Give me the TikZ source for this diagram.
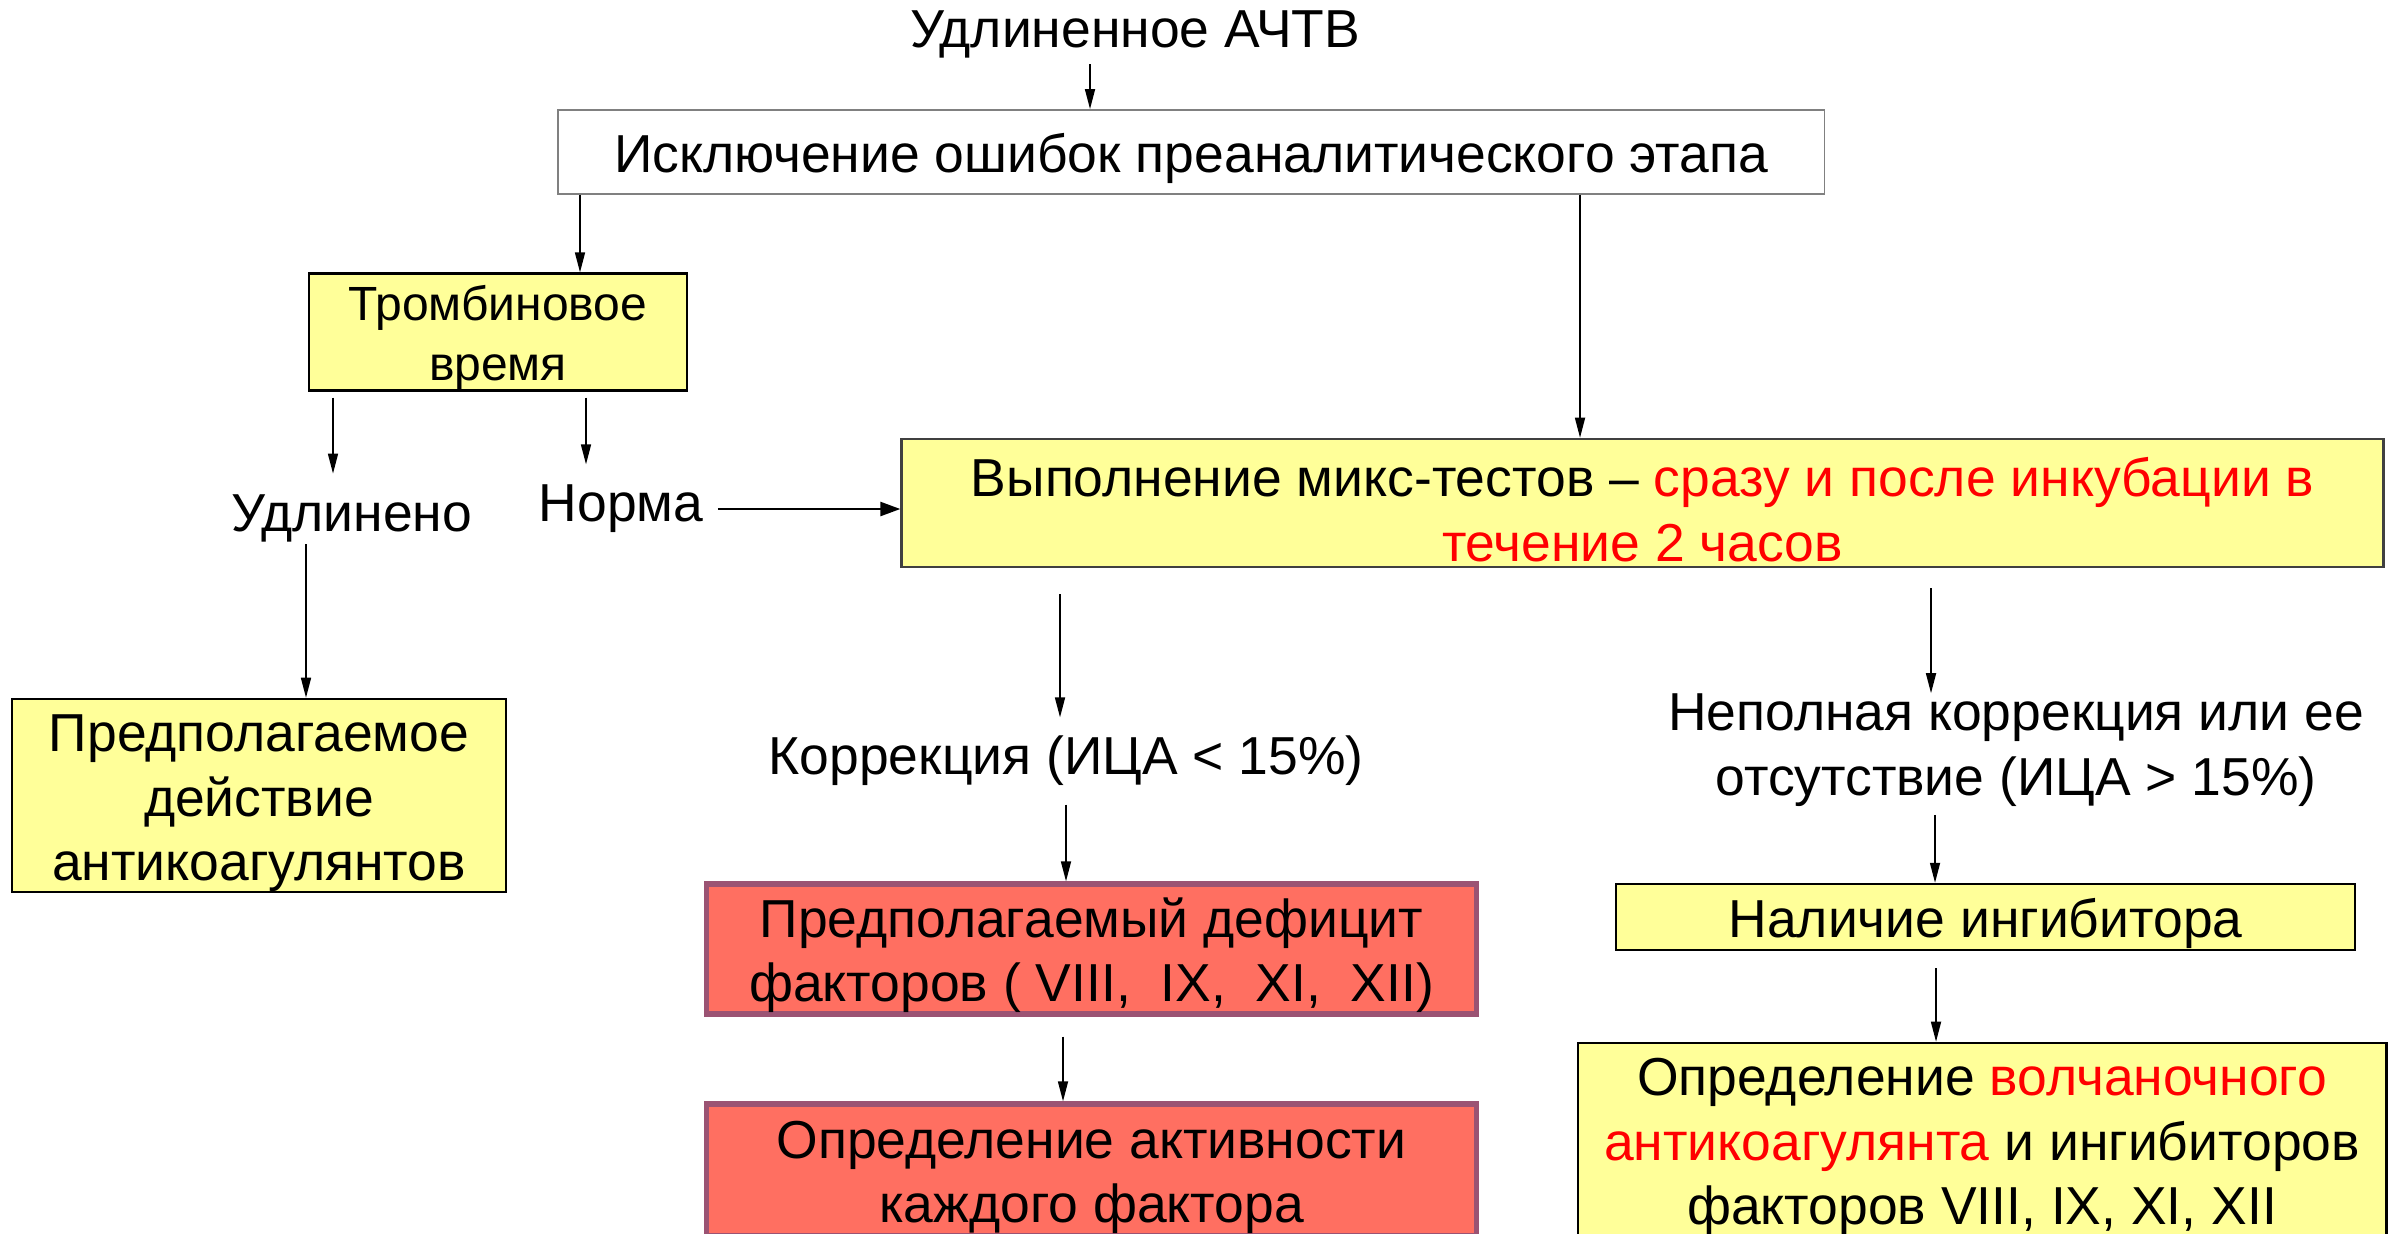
\documentclass[tikz,border=0pt]{standalone}
\usepackage{fontspec}
\setmainfont{Liberation Sans}
\usetikzlibrary{arrows.meta}

\definecolor{paleyellow}{HTML}{FFFF99}
\definecolor{salmon}{HTML}{FF6F61}
\definecolor{plum}{HTML}{9B5373}
\definecolor{darkline}{HTML}{404040}

% lifts the text in a box a little, as in the slide
\newcommand{\bump}{\rule{0pt}{0.98em}}

\tikzset{
  txt/.style={font=\fontsize{15.2}{18.3}\selectfont, align=center, inner sep=0pt},
  plainbox/.style={txt, draw=gray, line width=0.5pt, fill=white},
  yelbox/.style={txt, draw=black, line width=0.7pt, fill=paleyellow},
  redbox/.style={txt, draw=plum, line width=1.5pt, fill=salmon},
  link/.style={-{Triangle[length=0.2cm,width=0.1cm]}, line width=0.45pt}
}

\begin{document}
\begin{tikzpicture}[x=0.01cm, y=-0.01cm]
\useasboundingbox (0,0) rectangle (2398,1233);
\clip (0,0) rectangle (2398,1233);

% upper part
\node[txt] (title) at (1135,34) {Удлиненное АЧТВ};
\node[plainbox, minimum width=12.66cm, minimum height=0.84cm] (top) at (1191,152)
  {\bump Исключение ошибок преаналитического этапа};
\node[yelbox, font=\fontsize{13.65}{17}\selectfont, minimum width=3.78cm, minimum height=1.16cm] (tt) at (498,332)
  {\bump Тромбиновое\\время};
\node[txt] (udl) at (352,518) {Удлинено};
\node[txt] (norma) at (621,509) {Норма};
\node[yelbox, draw=darkline, minimum width=14.81cm, minimum height=1.28cm] (mix) at (1642.5,503)
  {\bump Выполнение микс-тестов – \textcolor{red}{сразу и после инкубации в}\\\textcolor{red}{течение 2 часов}};

% left branch
\node[yelbox, minimum width=4.94cm, minimum height=1.93cm] (anti) at (259,795.5)
  {\bump Предполагаемое\\действие\\антикоагулянтов};

% middle branch
\node[txt] (corr) at (1066,761) {Коррекция (ИЦА < 15\%)};
\node[redbox, minimum width=7.69cm, minimum height=1.30cm] (def) at (1091.5,949)
  {\bump Предполагаемый дефицит\\факторов (\ VIII,\ \ IX,\ \ XI,\ \ XII)};
\node[redbox, minimum width=7.69cm, minimum height=1.32cm] (act) at (1091.5,1170)
  {\bump Определение активности\\каждого фактора};

% right branch
\node[txt] (nep) at (2016,750) {Неполная коррекция или ее\\отсутствие (ИЦА > 15\%)};
\node[yelbox, minimum width=7.39cm, minimum height=0.66cm] (inh) at (1985.5,917)
  {\bump Наличие ингибитора};
\node[yelbox, minimum width=8.08cm, minimum height=1.93cm] (la) at (1982,1139.5)
  {\bump Определение \textcolor{red}{волчаночного}\\\textcolor{red}{антикоагулянта} и ингибиторов\\факторов VIII, IX, XI, XII};

% connectors
\draw[link, shorten <=0.06cm] (title.south -| 1090,0) -- (top.north -| 1090,0);
\draw[link] (top.south -| 580,0) -- (tt.north -| 580,0);
\draw[link] (top.south -| 1580,0) -- (mix.north -| 1580,0);
\draw[link, shorten <=0.06cm, shorten >=0.2cm] (tt.south -| 333,0) -- (udl.north -| 333,0);
\draw[link, shorten <=0.06cm, shorten >=0.2cm] (tt.south -| 586,0) -- (norma.north -| 586,0);
\draw[-{Triangle[length=0.2cm,width=0.14cm]}, line width=0.7pt, shorten <=0.14cm] (norma.east) -- (mix.west |- norma.east);
\draw[link, shorten <=0.02cm] (udl.south -| 306,0) -- (anti.north -| 306,0);
\draw[link, shorten <=0.26cm, shorten >=0.18cm] (mix.south -| 1060,0) -- (corr.north -| 1060,0);
\draw[link, shorten <=0.18cm] (corr.south -| 1066,0) -- (def.north -| 1066,0);
\draw[link, shorten <=0.2cm] (def.south -| 1063,0) -- (act.north -| 1063,0);
\draw[link, shorten <=0.2cm] (mix.south -| 1931,0) -- (nep.north -| 1931,0);
\draw[link, shorten <=0.08cm] (nep.south -| 1935,0) -- (inh.north -| 1935,0);
\draw[link, shorten <=0.17cm] (inh.south -| 1936,0) -- (la.north -| 1936,0);
\end{tikzpicture}
\end{document}
